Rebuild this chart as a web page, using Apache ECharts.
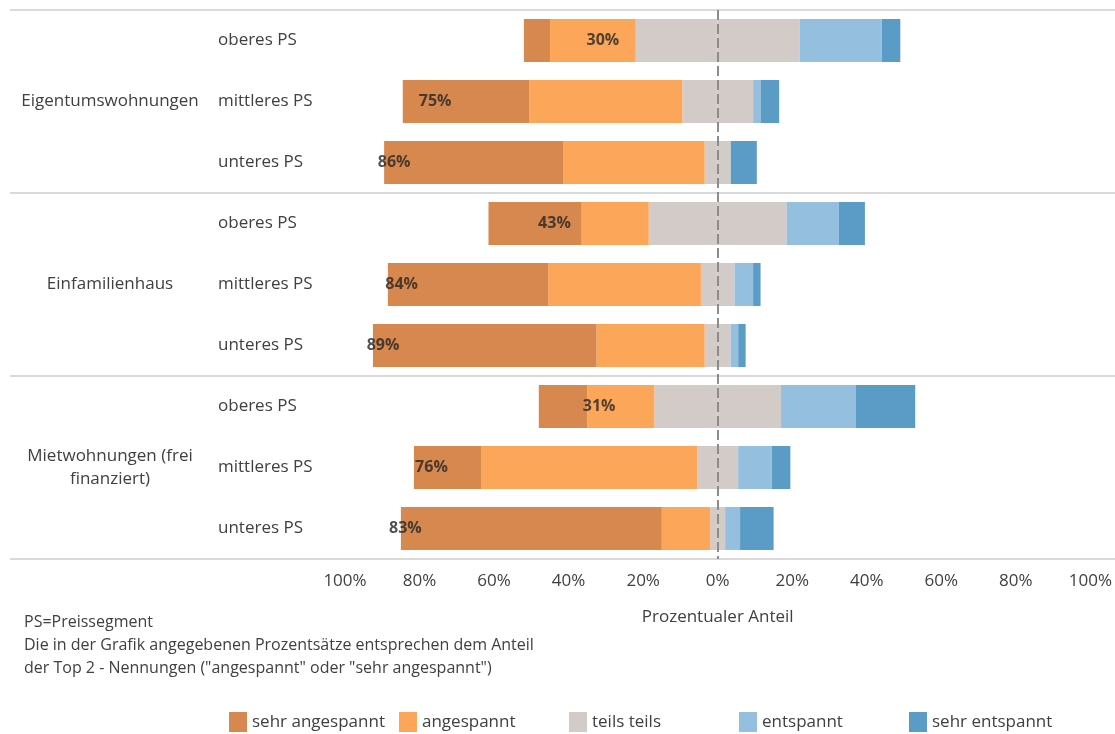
<!DOCTYPE html>
<html>
<head>
<meta charset="utf-8">
<script src="https://cdn.jsdelivr.net/npm/echarts@6/dist/echarts.min.js"></script>
<style>
  html, body { margin: 0; padding: 0; background: #fff; }
  #chart { width: 1115px; height: 734px; }
</style>
</head>
<body>
<div id="chart"></div>
<script>
// Wohnungsmarkt-Einschätzung nach Objektart und Preissegment (Anteile in %)
const groups = ['Eigentumswohnungen', 'Einfamilienhaus', 'Mietwohnungen (frei\nfinanziert)'];
const segments = ['oberes PS', 'mittleres PS', 'unteres PS'];

// one entry per bar, top to bottom (groups × segments)
const sehrAngespannt = [7, 34, 48, 25, 43, 60, 13, 18, 70];
const angespannt     = [23, 41, 38, 18, 41, 29, 18, 58, 13];
const teilsTeils     = [44, 19, 7, 37, 9, 7, 34, 11, 4];
const entspannt      = [22, 2, 0, 14, 5, 2, 20, 9, 4];
const sehrEntspannt  = [5, 5, 7, 7, 2, 2, 16, 5, 9];

const tickValues = [-100, -80, -60, -40, -20, 0, 20, 40, 60, 80, 100];
const legendNames = ['sehr angespannt', 'angespannt', 'teils teils', 'entspannt', 'sehr entspannt'];
const colors = {
  'sehr angespannt': '#D7884F',
  'angespannt': '#FCA65A',
  'teils teils': '#D2CBC8',
  'entspannt': '#94BFDF',
  'sehr entspannt': '#5B9CC7'
};

const FONT = '"Open Sans", "Noto Sans", sans-serif';
const TEXT = '#404040';

// unique ids per row so repeated segment names stay separate categories
const rowIds = [];
groups.forEach((g, gi) => segments.forEach(s => rowIds.push(gi + '|' + s)));

// diverging layout: "teils teils" is split half left / half right of zero
const teilsLeft  = teilsTeils.map(v => -v / 2);
const teilsRight = teilsTeils.map(v => v / 2);
const angLeft    = angespannt.map(v => -v);
const sehrLeft   = sehrAngespannt.map(v => -v);
const top2       = sehrAngespannt.map((v, i) => v + angespannt[i]);

function bar(name, data, extra) {
  return Object.assign({
    type: 'bar', name: name, data: data, stack: 'total',
    xAxisIndex: 0, yAxisIndex: 0,
    barWidth: 43,
    itemStyle: { color: colors[name] },
    emphasis: { disabled: true },
    silent: true
  }, extra || {});
}

// legend entries sit in equal-width slots
const legendSlotLeft = 229, legendSlotWidth = 170;
const legends = legendNames.map((name, i) => ({
  data: [name],
  left: legendSlotLeft + i * legendSlotWidth, top: 712,
  padding: 0,
  itemWidth: 18, itemHeight: 20,
  icon: 'rect',
  selectedMode: false,
  textStyle: { fontSize: 17, color: TEXT, fontFamily: FONT }
}));

const chart = echarts.init(document.getElementById('chart'), null, { renderer: 'canvas' });

chart.setOption({
  animation: false,
  textStyle: { fontFamily: FONT },
  grid: [
    { left: 345, right: 20, top: 10, height: 549 },
    { left: 10, right: 0, top: 10, height: 549 }
  ],
  xAxis: [
    {
      gridIndex: 0, type: 'value', min: -100, max: 100, interval: 20,
      axisLine: { show: false }, axisTick: { show: false }, splitLine: { show: false },
      axisLabel: {
        margin: 14, fontSize: 17, color: TEXT, fontFamily: FONT,
        formatter: v => (tickValues.indexOf(v) >= 0 ? Math.abs(v) + '%' : '')
      },
      name: 'Prozentualer Anteil', nameLocation: 'middle', nameGap: 50,
      nameTextStyle: { fontSize: 17, color: TEXT, fontFamily: FONT }
    },
    { gridIndex: 1, type: 'value', show: false, min: 0, max: 1 }
  ],
  yAxis: [
    {
      gridIndex: 0, type: 'category', data: rowIds, inverse: true,
      axisLine: { show: false }, axisTick: { show: false }, splitLine: { show: false },
      axisLabel: {
        align: 'left', margin: 127, fontSize: 17, color: TEXT, fontFamily: FONT,
        formatter: v => v.split('|')[1]
      }
    },
    {
      gridIndex: 1, type: 'category', data: groups, inverse: true,
      axisLine: { show: false }, axisTick: { show: false },
      splitLine: { show: true, lineStyle: { color: '#D9D9D9', width: 2 } },
      axisLabel: {
        inside: true, margin: 100, align: 'center', fontSize: 17,
        lineHeight: 23, color: TEXT, fontFamily: FONT
      }
    }
  ],
  legend: legends,
  graphic: [
    {
      type: 'text', left: 24, top: 611, silent: true,
      style: {
        text: 'PS=Preissegment\nDie in der Grafik angegebenen Prozentsätze entsprechen dem Anteil\nder Top 2 - Nennungen ("angespannt" oder "sehr angespannt")',
        fontSize: 16, lineHeight: 23, fill: TEXT, fontFamily: FONT
      }
    }
  ],
  series: [
    bar('teils teils', teilsLeft),
    bar('angespannt', angLeft),
    bar('sehr angespannt', sehrLeft),
    bar('teils teils', teilsRight, {
      markLine: {
        silent: true, symbol: 'none', label: { show: false },
        lineStyle: { color: '#8C8C8C', width: 2, type: [10, 4] },
        data: [{ xAxis: 0 }],
        z: 10
      }
    }),
    bar('entspannt', entspannt),
    bar('sehr entspannt', sehrEntspannt),
    {
      // Top-2 share labels
      type: 'scatter', xAxisIndex: 0, yAxisIndex: 0,
      data: top2.map((v, i) => [-v, i]),
      symbolSize: 1,
      itemStyle: { color: 'rgba(0,0,0,0)' },
      silent: true, z: 20,
      label: {
        show: true, position: 'inside', offset: [-3, 0],
        formatter: p => top2[p.dataIndex] + '%',
        fontSize: 16, fontWeight: 'bold', color: '#262626', fontFamily: FONT
      }
    }
  ]
});
</script>
</body>
</html>
